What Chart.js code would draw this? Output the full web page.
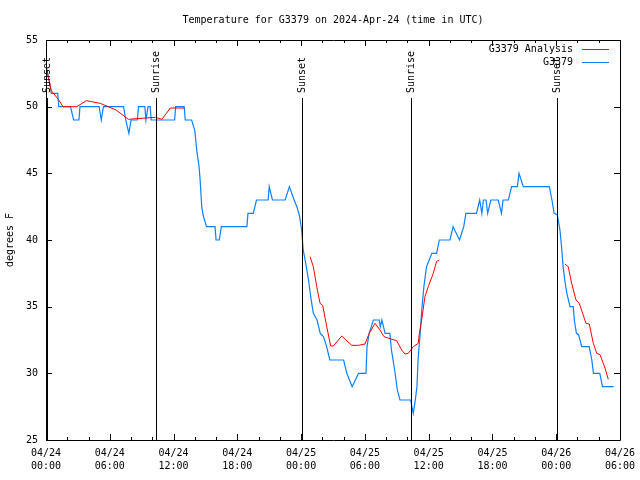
<!DOCTYPE html>
<html>
<head>
<meta charset="utf-8">
<script src="https://cdn.jsdelivr.net/npm/chart.js@4.4.1/dist/chart.umd.min.js"></script>
<style>
    body { margin: 0; background: #fff; }
    canvas { display: block; }
</style>
</head>
<body>
<canvas id="chart" width="640" height="480"></canvas>
<script>
// horas desde 04/24 00:00 UTC
const obsHours = [0, 0.3, 0.5, 1.1, 1.2, 2.3, 2.6, 3.1, 3.2, 5.0, 5.2, 5.4, 7.3, 7.5, 7.8, 8.0, 8.6, 8.7, 9.3, 9.4,
    9.6, 9.8, 9.9, 12.1, 12.2, 13.0, 13.1, 13.7, 14.0, 14.2, 14.4, 14.5, 14.65, 14.8, 15.1, 15.9, 16.0, 16.3, 16.5, 18.9,
    19.0, 19.5, 19.8, 20.9, 21.0, 21.3, 22.5, 22.9, 23.3, 23.6, 23.85, 24.05, 24.2, 24.4, 24.7, 24.9, 25.15, 25.5, 25.8, 26.1,
    26.4, 26.7, 28.0, 28.3, 28.8, 29.4, 30.1, 30.2, 30.4, 30.8, 31.35, 31.45, 31.6, 31.9, 32.35, 32.5, 32.8, 33.05, 33.3, 34.3,
    34.55, 34.7, 34.9, 35.0, 35.2, 35.35, 35.55, 35.8, 36.0, 36.3, 36.75, 37.0, 38.0, 38.3, 38.9, 39.3, 39.5, 40.5, 40.8, 41.0,
    41.15, 41.4, 41.55, 41.85, 42.55, 42.85, 43.0, 43.5, 43.8, 44.35, 44.5, 44.9, 47.35, 47.6, 47.8, 48.1, 48.35, 48.5, 48.65, 48.8,
    49.0, 49.15, 49.3, 49.6, 49.7, 49.9, 50.1, 50.4, 51.1, 51.35, 51.5, 52.1, 52.35, 53.4];
const obsTemps = [53, 52, 51, 51, 50, 50, 49, 49, 50, 50, 49, 50, 50, 49, 48, 49, 49, 50, 50, 49,
    50, 50, 49, 49, 50, 50, 49, 49, 48.2, 46.6, 45.5, 44.5, 42.5, 41.8, 41, 41, 40, 40, 41, 41,
    42, 42, 43, 43, 44, 43, 43, 44, 43.1, 42.5, 41.8, 40.75, 39.25, 38.4, 37, 35.75, 34.5, 34, 33, 32.75,
    32, 31, 31, 30, 29, 30, 30, 32, 33, 34, 34, 33.5, 34, 33, 33, 31.75, 30.25, 28.75, 28, 28,
    27, 27.75, 29, 31, 33, 34.75, 36.5, 38, 38.4, 39, 39, 40, 40, 41, 40, 41, 42, 42, 43, 42,
    43, 43, 42, 43, 43, 42, 43, 43, 44, 44, 45, 44, 44, 43, 42, 41.9, 40.75, 39.5, 38, 37,
    36, 35.5, 35, 35, 34, 33, 32.9, 32, 32, 31, 30, 30, 29, 29];

const anaHours = [0, 0.5, 0.7, 1.2, 1.6, 2.9, 3.8, 5.1, 6.6, 7.75, 8.5, 10.3, 10.9, 11.7, 13.0, 18,
    24.84, 25.15, 25.47, 25.78, 26.03, 26.41, 26.78, 27.03, 27.82, 28.76, 29.38, 30.01, 30.41, 30.95, 31.42, 31.8,
    32.36, 32.99, 33.46, 33.77, 34.08, 34.55, 35.02, 35.11, 35.34, 35.65, 35.96, 36.43, 36.75, 37.0, 42,
    48.82, 49.13, 49.45, 49.86, 50.17, 50.8, 51.11, 51.49, 51.81, 52.12, 52.59, 52.9];
const anaTemps = [53, 51.2, 51, 50.5, 50, 50, 50.45, 50.25, 49.75, 49.05, 49.1, 49.2, 49.05, 49.9, 49.9, null,
    38.75, 38, 36.5, 35.25, 35.1, 33.5, 32.05, 32.05, 32.8, 32.1, 32.1, 32.2, 33, 33.75, 33.25, 32.75,
    32.6, 32.45, 31.75, 31.45, 31.5, 32, 32.25, 32.9, 34, 35.75, 36.5, 37.5, 38.4, 38.5, null,
    38.2, 38, 36.75, 35.5, 35.25, 33.75, 33.7, 32.25, 31.5, 31.4, 30.4, 29.55];

const xTickLabels = [['04/24', '00:00'], ['04/24', '06:00'], ['04/24', '12:00'], ['04/24', '18:00'], ['04/25', '00:00'],
    ['04/25', '06:00'], ['04/25', '12:00'], ['04/25', '18:00'], ['04/26', '00:00'], ['04/26', '06:00']];

const sunEvents = ['Sunset', 'Sunrise', 'Sunset', 'Sunrise', 'Sunset'];
const sunHours = [0.1, 10.35, 24.1, 34.35, 48.1];

const FONT = 'DejaVu Sans Mono';
const BLUE = '#0a80ff';
const RED = '#ff0000';

const toPoints = (xs, ys) => xs.map((x, i) => ({ x, y: ys[i] }));

// borda, marcas internas, eventos do sol, título e legenda
const gnuplotLook = {
    id: 'gnuplotLook',
    afterDatasetsDraw(chart) {
        const { ctx, chartArea: a, scales } = chart;
        const xs = scales.x, ys = scales.y;
        ctx.save();
        ctx.strokeStyle = '#000';
        ctx.lineWidth = 1;
        ctx.beginPath();
        ctx.rect(a.left + 0.5, a.top + 0.5, a.right - a.left, a.bottom - a.top);
        ctx.stroke();

        ctx.beginPath();
        for (let h = 0; h <= 54; h += 2) {
            const px = Math.round(xs.getPixelForValue(h)) + 0.5;
            const len = h % 6 === 0 ? 6 : 3;
            ctx.moveTo(px, a.bottom); ctx.lineTo(px, a.bottom - len);
            ctx.moveTo(px, a.top); ctx.lineTo(px, a.top + len);
        }
        for (let v = 25; v <= 55; v += 5) {
            const py = Math.round(ys.getPixelForValue(v)) + 0.5;
            ctx.moveTo(a.left, py); ctx.lineTo(a.left + 6, py);
            ctx.moveTo(a.right, py); ctx.lineTo(a.right - 6, py);
        }
        ctx.stroke();

        ctx.font = `10px "${FONT}"`;
        ctx.fillStyle = '#000';
        sunHours.forEach((h, i) => {
            const px = Math.round(xs.getPixelForValue(h)) + 0.5;
            ctx.beginPath();
            ctx.moveTo(px, 98);
            ctx.lineTo(px, a.bottom);
            ctx.stroke();
            ctx.save();
            ctx.translate(px, 0);
            ctx.rotate(-Math.PI / 2);
            ctx.textAlign = 'left';
            ctx.textBaseline = 'middle';
            ctx.fillText(sunEvents[i], -93, 0);
            ctx.restore();
        });

        ctx.textAlign = 'center';
        ctx.textBaseline = 'middle';
        ctx.fillText('Temperature for G3379 on 2024-Apr-24 (time in UTC)', (a.left + a.right) / 2, 20);

        ctx.textAlign = 'right';
        const legend = [['G3379 Analysis', RED], ['G3379', BLUE]];
        legend.forEach(([label, color], i) => {
            const y = 49 + i * 13;
            ctx.fillStyle = '#000';
            ctx.fillText(label, 573, y);
            ctx.strokeStyle = color;
            ctx.beginPath();
            ctx.moveTo(582, y + 0.5);
            ctx.lineTo(609, y + 0.5);
            ctx.stroke();
        });
        ctx.restore();
    }
};

new Chart(document.getElementById('chart'), {
    type: 'line',
    data: {
        datasets: [
            {
                label: 'G3379 Analysis',
                data: toPoints(anaHours, anaTemps),
                borderColor: RED,
                borderWidth: 1,
                pointRadius: 0,
                spanGaps: false
            },
            {
                label: 'G3379',
                data: toPoints(obsHours, obsTemps),
                borderColor: BLUE,
                borderWidth: 1.2,
                pointRadius: 0
            }
        ]
    },
    options: {
        responsive: false,
        animation: false,
        events: [],
        layout: { padding: { top: 40, right: 20, left: 0, bottom: 0 } },
        plugins: { legend: { display: false }, tooltip: { enabled: false } },
        scales: {
            x: {
                type: 'linear',
                min: 0,
                max: 54,
                afterFit: s => {
                    s.height = 40;
                    s.paddingLeft = 0;
                    s.paddingRight = 0;
                },
                grid: { display: false, drawTicks: false },
                border: { display: false },
                ticks: {
                    stepSize: 6,
                    autoSkip: false,
                    maxRotation: 0,
                    padding: 7,
                    color: '#000',
                    font: { family: FONT, size: 10, lineHeight: 1.3 },
                    callback: v => xTickLabels[v / 6]
                }
            },
            y: {
                min: 25,
                max: 55,
                afterFit: s => { s.width = 46; },
                grid: { display: false, drawTicks: false },
                border: { display: false },
                title: {
                    display: true,
                    text: 'degrees F',
                    color: '#000',
                    padding: 4,
                    font: { family: FONT, size: 10 }
                },
                ticks: {
                    stepSize: 5,
                    padding: 8,
                    color: '#000',
                    font: { family: FONT, size: 10 }
                }
            }
        }
    },
    plugins: [gnuplotLook]
});
</script>
</body>
</html>
